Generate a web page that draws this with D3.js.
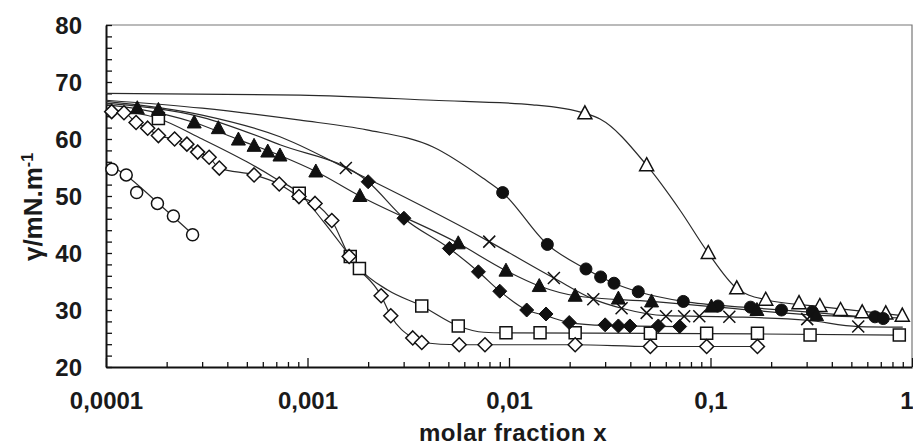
<!DOCTYPE html>
<html>
<head>
  <meta charset="utf-8">
  <style>
    body { margin: 0; background: #fff; }
    svg { display: block; }
    text { font-family: "Liberation Sans", Arial, sans-serif; font-weight: bold; fill: #1a1a1a; }
  </style>
</head>
<body>
  <svg id="svg"></svg>
<script src="https://cdn.jsdelivr.net/npm/d3@7/dist/d3.min.js"></script>
<script>
  // ---- data ----
  // open circles
  var openCircleX = [1.07e-4, 1.26e-4, 1.42e-4, 1.80e-4, 2.16e-4, 2.69e-4];
  var openCircleY = [54.7, 53.7, 50.6, 48.7, 46.5, 43.2];
  var openCircleFitX = [1.05e-4, 1.26e-4, 1.78e-4, 2.71e-4];
  var openCircleFitY = [55.4, 53.6, 49.0, 43.2];

  // open triangles
  var openTriX = [0.0238, 0.0482, 0.0975, 0.135, 0.188, 0.275, 0.349, 0.442, 0.566, 0.741, 0.895];
  var openTriY = [64.5, 55.4, 40.0, 33.8, 31.8, 31.2, 30.7, 30.0, 29.6, 29.4, 29.0];
  var openTriFitX = [1e-4, 9.2e-4, 0.0042, 0.0131, 0.0238, 0.0283, 0.0482, 0.0706, 0.0975, 0.135, 0.188, 0.349, 0.895];
  var openTriFitY = [68.0, 67.7, 66.8, 66.0, 64.5, 63.5, 55.4, 47.5, 40.0, 33.8, 31.8, 30.6, 29.0];

  // filled circles
  var dotX = [0.0093, 0.0155, 0.0241, 0.0285, 0.0332, 0.0438, 0.0733, 0.109, 0.158, 0.225, 0.32, 0.655, 0.72];
  var dotY = [50.6, 41.5, 37.2, 35.8, 34.7, 33.2, 31.5, 30.7, 30.5, 30.0, 29.7, 28.8, 28.5];
  var dotFitX = [1e-4, 3e-4, 9.2e-4, 0.00197, 0.0042, 0.00745, 0.0093, 0.0155, 0.0241, 0.0332, 0.0438, 0.0733, 0.158, 0.32, 0.72];
  var dotFitY = [66.8, 65.4, 63.3, 61.6, 58.6, 53.1, 50.6, 41.5, 37.2, 34.7, 33.2, 31.5, 30.4, 29.6, 28.5];

  // crosses
  var crossX = [0.00155, 0.00798, 0.0167, 0.0262, 0.0362, 0.0482, 0.0601, 0.074, 0.088, 0.124, 0.302, 0.541];
  var crossY = [54.9, 42.0, 35.6, 31.9, 30.3, 29.5, 28.9, 28.9, 28.9, 28.8, 28.4, 27.1];
  var crossFitX = [1e-4, 3e-4, 7.3e-4, 0.00155, 0.00798, 0.0167, 0.0262, 0.0362, 0.0601, 0.124, 0.302, 0.541, 0.9];
  var crossFitY = [66.6, 64.2, 60.4, 54.9, 42.0, 35.6, 31.9, 30.3, 29.0, 28.8, 28.2, 27.1, 27.0];

  // filled triangles
  var triX = [1.43e-4, 1.82e-4, 2.74e-4, 3.61e-4, 4.54e-4, 5.43e-4, 6.35e-4, 7.3e-4, 1.10e-3, 1.82e-3,
              5.6e-3, 9.66e-3, 0.01413, 0.0213, 0.0349, 0.051, 0.101, 0.17, 0.336];
  var triY = [65.4, 65.1, 62.9, 61.9, 59.9, 58.8, 57.8, 57.1, 54.3, 50.0,
              41.7, 36.9, 34.2, 32.5, 32.0, 31.5, 30.6, 30.0, 29.1];
  var triFitX = [1e-4, 1.43e-4, 2.74e-4, 4.54e-4, 7.3e-4, 1.10e-3, 1.82e-3, 5.6e-3, 9.66e-3, 0.01413, 0.0213, 0.051, 0.101, 0.336, 0.9];
  var triFitY = [66.0, 65.3, 62.9, 59.9, 57.1, 54.3, 50.0, 41.7, 36.9, 34.2, 32.5, 31.5, 30.6, 29.1, 28.6];

  // filled diamonds
  var blackDiaX = [0.0020, 0.00301, 0.00506, 0.00705, 0.0090, 0.01224, 0.01527, 0.0199, 0.0300, 0.0349, 0.0398, 0.0551, 0.0703];
  var blackDiaY = [52.5, 46.1, 40.8, 36.7, 33.3, 30.0, 29.3, 27.8, 27.4, 27.2, 27.2, 27.2, 27.1];
  var blackDiaFitX = [1e-4, 3e-4, 7.3e-4, 0.0020, 0.00301, 0.00506, 0.00705, 0.0090, 0.01224, 0.01527, 0.0199, 0.0300, 0.0703];
  var blackDiaFitY = [66.3, 63.8, 59.0, 52.5, 46.1, 40.8, 36.7, 33.3, 30.0, 29.0, 27.8, 27.3, 27.1];

  // open squares
  var squareX = [1.82e-4, 9.1e-4, 1.63e-3, 1.81e-3, 3.69e-3, 5.6e-3, 9.66e-3, 0.01426, 0.0213, 0.0503, 0.0957, 0.171, 0.312, 0.865];
  var squareY = [63.6, 50.5, 39.4, 37.3, 30.7, 27.2, 26.0, 26.0, 26.0, 25.9, 25.9, 25.9, 25.6, 25.6];
  var squareFitX = [1e-4, 1.82e-4, 3e-4, 5e-4, 7e-4, 9.1e-4, 1.2e-3, 1.63e-3, 1.81e-3, 2.5e-3, 3.69e-3, 5.6e-3, 7.5e-3, 9.66e-3, 0.0503, 0.171, 0.865];
  var squareFitY = [65.2, 63.6, 60.0, 56.0, 53.0, 50.5, 45.5, 39.4, 37.3, 33.5, 30.7, 27.2, 26.1, 26.0, 25.9, 25.8, 25.6];

  // open diamonds
  var diaX = [1.067e-4, 1.228e-4, 1.41e-4, 1.61e-4, 1.82e-4, 2.19e-4, 2.52e-4, 2.85e-4, 3.25e-4, 3.65e-4, 5.43e-4, 7.24e-4, 9.07e-4,
              1.09e-3, 1.32e-3, 1.61e-3, 2.32e-3, 2.59e-3, 3.33e-3, 3.69e-3, 5.66e-3, 7.6e-3, 0.0213, 0.0503, 0.0957, 0.171];
  var diaY = [64.8, 64.6, 62.9, 61.9, 60.6, 60.0, 59.1, 57.7, 56.8, 54.9, 53.7, 52.1, 49.9,
              48.7, 45.7, 39.4, 32.5, 29.0, 25.1, 24.3, 23.9, 23.9, 23.9, 23.6, 23.6, 23.6];

  var yTicks = [20, 30, 40, 50, 60, 70, 80];
  var xTicks = [1e-4, 1e-3, 1e-2, 1e-1, 1];
  var xTickLabels = ["0,0001", "0,001", "0,01", "0,1", "1"];

  // ---- layout ----
  var width = 913, height = 446;
  var svg = d3.select("#svg").attr("width", width).attr("height", height);

  var x = d3.scaleLog().domain([1e-4, 1]).range([106, 912]);
  var y = d3.scaleLinear().domain([20, 80]).range([367, 25]);

  function zip(a, b) {
    return a.map(function (v, i) { return [v, b[i]]; });
  }
  function isDecade(d) {
    return xTicks.some(function (t) { return Math.abs(t - d) / t < 1e-6; });
  }

  var line = d3.line()
    .x(function (d) { return x(d[0]); })
    .y(function (d) { return y(d[1]); })
    .curve(d3.curveMonotoneX);

  // frame (top/right, grey)
  svg.append("path")
    .attr("d", "M" + x(1e-4) + "," + y(80) + "H" + x(1) + "V" + y(20))
    .attr("fill", "none")
    .attr("stroke", "#777")
    .attr("stroke-width", 1.2);

  // ---- axes ----
  var yMinor = d3.range(20, 81, 2);
  var yAxis = svg.append("g")
    .attr("transform", "translate(" + x(1e-4) + ",0)")
    .call(d3.axisLeft(y).tickValues(yMinor).tickSizeInner(-6).tickSizeOuter(0).tickPadding(24)
      .tickFormat(function (d) { return yTicks.indexOf(d) >= 0 ? d : ""; }));
  yAxis.selectAll("text").style("font-size", "24px").attr("dy", "0.36em");

  var xMinor = [];
  for (var e = -4; e < 0; e++) {
    for (var m = 1; m < 10; m++) xMinor.push(m * Math.pow(10, e));
  }
  xMinor.push(1);
  var xAxis = svg.append("g")
    .attr("transform", "translate(0," + y(20) + ")")
    .call(d3.axisBottom(x).tickValues(xMinor).tickSizeInner(-5).tickSizeOuter(0).tickPadding(25)
      .tickFormat(function (d) {
        var i = xTicks.findIndex(function (t) { return Math.abs(t - d) / t < 1e-6; });
        return i >= 0 ? xTickLabels[i] : "";
      }));
  xAxis.selectAll("text").style("font-size", "24px");
  // last label sits against the right edge
  xAxis.selectAll(".tick text").filter(function (d) { return d === 1; })
    .attr("text-anchor", "end").attr("x", 1);
  xAxis.selectAll(".tick line")
    .attr("y2", function (d) { return isDecade(d) ? -9 : -5; });

  [xAxis, yAxis].forEach(function (g) {
    g.select(".domain").attr("stroke", "#111").attr("stroke-width", 2);
    g.selectAll(".tick line").attr("stroke", "#111").attr("stroke-width", 1.3);
  });

  // axis titles
  svg.append("text")
    .attr("x", 513).attr("y", 440.5)
    .attr("text-anchor", "middle")
    .style("font-size", "24px")
    .style("letter-spacing", "0.5px")
    .text("molar fraction x");

  var yt = svg.append("text")
    .attr("transform", "translate(42,207) rotate(-90)")
    .attr("text-anchor", "middle")
    .style("font-size", "26px");
  yt.append("tspan").text("γ/mN.m");
  yt.append("tspan").attr("dy", "-0.55em").style("font-size", "16px").text("-1");

  // ---- fitted curves ----
  var fits = [
    [openCircleFitX, openCircleFitY],
    [openTriFitX, openTriFitY],
    [dotFitX, dotFitY],
    [crossFitX, crossFitY],
    [triFitX, triFitY],
    [blackDiaFitX, blackDiaFitY],
    [squareFitX, squareFitY],
    [diaX, diaY]
  ];
  svg.append("g").selectAll("path")
    .data(fits)
    .enter()
    .append("path")
    .attr("d", function (d) { return line(zip(d[0], d[1])); })
    .attr("fill", "none")
    .attr("stroke", "#2a2a2a")
    .attr("stroke-width", 1.2);

  // ---- markers ----
  function shape(kind) {
    var p = d3.path();
    if (kind === "circle") {
      p.arc(0, 0, 6, 0, 2 * Math.PI);
    } else if (kind === "triangle") {
      p.moveTo(0, -7.5); p.lineTo(7, 5.5); p.lineTo(-7, 5.5); p.closePath();
    } else if (kind === "square") {
      p.rect(-6, -6, 12, 12);
    } else if (kind === "diamond") {
      p.moveTo(0, -7); p.lineTo(7, 0); p.lineTo(0, 7); p.lineTo(-7, 0); p.closePath();
    } else if (kind === "cross") {
      p.moveTo(-6, -6); p.lineTo(6, 6); p.moveTo(6, -6); p.lineTo(-6, 6);
    }
    return p.toString();
  }

  var markerSets = [
    { xs: openCircleX, ys: openCircleY, kind: "circle", filled: false },
    { xs: openTriX, ys: openTriY, kind: "triangle", filled: false },
    { xs: squareX, ys: squareY, kind: "square", filled: false },
    { xs: diaX, ys: diaY, kind: "diamond", filled: false },
    { xs: dotX, ys: dotY, kind: "circle", filled: true },
    { xs: crossX, ys: crossY, kind: "cross", filled: false },
    { xs: triX, ys: triY, kind: "triangle", filled: true },
    { xs: blackDiaX, ys: blackDiaY, kind: "diamond", filled: true }
  ];

  markerSets.forEach(function (s) {
    svg.append("g").selectAll("path")
      .data(zip(s.xs, s.ys))
      .enter()
      .append("path")
      .attr("transform", function (d) { return "translate(" + x(d[0]) + "," + y(d[1]) + ")"; })
      .attr("d", shape(s.kind))
      .attr("fill", s.kind === "cross" ? "none" : (s.filled ? "#111" : "#fff"))
      .attr("stroke", "#111")
      .attr("stroke-width", s.filled ? 1 : 1.5);
  });
</script>
</body>
</html>
